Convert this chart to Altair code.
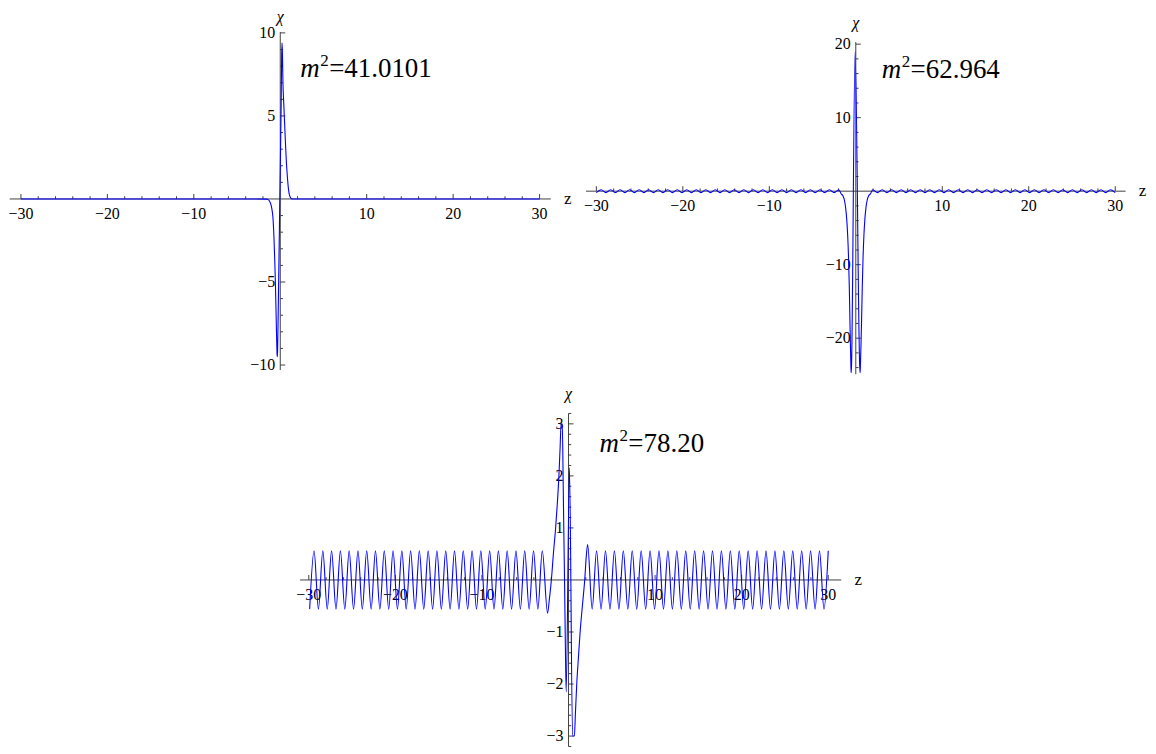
import altair as alt
import pandas as pd

# ---------------- data ----------------
# Panel 1 : m^2 = 41.0101
z1 = [-30.0, -3.0, -1.6, -1.4, -1.25, -1.1, -0.97, -0.85, -0.73, -0.63, -0.55, -0.47,
      -0.41, -0.37, -0.34, -0.31, -0.2, -0.05, 0.1, 0.16, 0.2, 0.25, 0.31, 0.4, 0.5,
      0.6, 0.7, 0.8, 0.9, 1.0, 1.15, 1.35, 2.0, 30.0]
chi1 = [0.0, 0.0, -0.01, -0.04, -0.12, -0.3, -0.6, -1.1, -2.3, -3.8, -5.3, -7.2,
        -8.6, -9.3, -9.5, -9.2, -5.5, 0.0, 5.5, 8.5, 9.4, 8.8, 7.0, 5.8, 4.6,
        3.4, 2.3, 1.5, 0.85, 0.4, 0.12, 0.0, 0.0, 0.0]

# Panel 2 : m^2 = 62.964  (small ripple on both sides, double well in the middle)
z2_left = [-30.0, -29.45, -28.9, -28.35, -27.8, -27.25, -26.7, -26.15, -25.6, -25.05,
           -24.5, -23.95, -23.4, -22.85, -22.3, -21.75, -21.2, -20.65, -20.1, -19.55,
           -19.0, -18.45, -17.9, -17.35, -16.8, -16.25, -15.7, -15.15, -14.6, -14.05,
           -13.5, -12.95, -12.4, -11.85, -11.3, -10.75, -10.2, -9.65, -9.1, -8.55,
           -8.0, -7.45, -6.9, -6.35, -5.8, -5.25, -4.7, -4.15, -3.6, -3.05, -2.5, -1.95]
chi2_left = [-0.2, 0.2, -0.2, 0.2, -0.2, 0.2, -0.2, 0.2, -0.2, 0.2,
             -0.2, 0.2, -0.2, 0.2, -0.2, 0.2, -0.2, 0.2, -0.2, 0.2,
             -0.2, 0.2, -0.2, 0.2, -0.2, 0.2, -0.2, 0.2, -0.2, 0.2,
             -0.2, 0.2, -0.2, 0.2, -0.2, 0.2, -0.2, 0.2, -0.2, 0.2,
             -0.2, 0.2, -0.2, 0.2, -0.2, 0.2, -0.2, 0.2, -0.2, 0.2, -0.2, 0.2]
z2_mid = [-1.7, -1.5, -1.32, -1.18, -1.05, -0.94, -0.84, -0.75, -0.68, -0.62, -0.57, -0.54, -0.5,
          -0.08,
          0.46, 0.5, 0.54, 0.6, 0.67, 0.75, 0.84, 0.94, 1.05, 1.18, 1.32, 1.5, 1.7]
chi2_mid = [-0.35, -0.6, -1.2, -2.2, -3.8, -6.0, -9.0, -13.0, -17.5, -21.0, -23.5, -24.7, -24.0,
            19.0,
            -24.0, -24.7, -23.5, -21.0, -17.5, -13.0, -9.0, -6.0, -3.8, -2.2, -1.2, -0.6, -0.35]
z2_right = [1.95, 2.5, 3.05, 3.6, 4.15, 4.7, 5.25, 5.8, 6.35, 6.9, 7.45, 8.0, 8.55,
            9.1, 9.65, 10.2, 10.75, 11.3, 11.85, 12.4, 12.95, 13.5, 14.05, 14.6, 15.15,
            15.7, 16.25, 16.8, 17.35, 17.9, 18.45, 19.0, 19.55, 20.1, 20.65, 21.2, 21.75,
            22.3, 22.85, 23.4, 23.95, 24.5, 25.05, 25.6, 26.15, 26.7, 27.25, 27.8, 28.35,
            28.9, 29.45, 30.0]
chi2_right = [0.2, -0.2, 0.2, -0.2, 0.2, -0.2, 0.2, -0.2, 0.2, -0.2,
              0.2, -0.2, 0.2, -0.2, 0.2, -0.2, 0.2, -0.2, 0.2, -0.2,
              0.2, -0.2, 0.2, -0.2, 0.2, -0.2, 0.2, -0.2, 0.2, -0.2,
              0.2, -0.2, 0.2, -0.2, 0.2, -0.2, 0.2, -0.2, 0.2, -0.2,
              0.2, -0.2, 0.2, -0.2, 0.2, -0.2, 0.2, -0.2, 0.2, -0.2, 0.2, -0.2]

# Panel 3 : m^2 = 78.20  (extrema of the oscillation + central structure)
z3_left = [-29.9, -29.39, -28.89, -28.38, -27.87, -27.37, -26.86, -26.35, -25.84, -25.34,
           -24.83, -24.32, -23.82, -23.31, -22.8, -22.3, -21.79, -21.28, -20.77, -20.27,
           -19.76, -19.25, -18.75, -18.24, -17.73, -17.23, -16.72, -16.21, -15.7, -15.2,
           -14.69, -14.18, -13.68, -13.17, -12.66, -12.16, -11.65, -11.14, -10.63, -10.13,
           -9.62, -9.11, -8.61, -8.1, -7.59, -7.09, -6.58, -6.07, -5.56, -5.06,
           -4.55, -4.04, -3.54, -3.03]
chi3_left = [-0.56, 0.56, -0.56, 0.56, -0.56, 0.56, -0.56, 0.56, -0.56, 0.56,
             -0.56, 0.56, -0.56, 0.56, -0.56, 0.56, -0.56, 0.56, -0.56, 0.56,
             -0.56, 0.56, -0.56, 0.56, -0.56, 0.56, -0.56, 0.56, -0.56, 0.56,
             -0.56, 0.56, -0.56, 0.56, -0.56, 0.56, -0.56, 0.56, -0.56, 0.56,
             -0.56, 0.56, -0.56, 0.56, -0.56, 0.56, -0.56, 0.56, -0.56, 0.56,
             -0.56, 0.56, -0.56, 0.56]
z3_mid = [-2.42, -2.2, -1.98, -1.75, -1.49, -1.3, -1.11, -0.97, -0.86, -0.72, -0.62, -0.54,
          -0.46, -0.36, -0.27, 0.11, 0.47, 0.68, 0.8, 0.95, 1.14, 1.34, 1.6, 1.87, 2.05, 2.21]
chi3_mid = [-0.64, -0.35, 0.0, 0.5, 1.0, 1.45, 2.0, 2.55, 3.0, 3.0, 1.9, 0.9,
            0.0, -1.3, -2.15, 2.16, -3.0, -3.0, -2.55, -2.0, -1.5, -1.0, -0.5, 0.0, 0.45, 0.68]
z3_right = [2.73, 3.24, 3.76, 4.27, 4.79, 5.3, 5.82, 6.33, 6.85, 7.36, 7.88, 8.39, 8.91,
            9.42, 9.94, 10.45, 10.97, 11.48, 12.0, 12.51, 13.03, 13.54, 14.06, 14.57, 15.09,
            15.6, 16.12, 16.63, 17.15, 17.66, 18.18, 18.69, 19.21, 19.72, 20.24, 20.75,
            21.27, 21.78, 22.3, 22.81, 23.33, 23.84, 24.36, 24.87, 25.39, 25.9, 26.42,
            26.93, 27.45, 27.96, 28.48, 28.99, 29.51, 30.0]
chi3_right = [-0.56, 0.56, -0.56, 0.56, -0.56, 0.56, -0.56, 0.56, -0.56, 0.56,
              -0.56, 0.56, -0.56, 0.56, -0.56, 0.56, -0.56, 0.56, -0.56, 0.56,
              -0.56, 0.56, -0.56, 0.56, -0.56, 0.56, -0.56, 0.56, -0.56, 0.56,
              -0.56, 0.56, -0.56, 0.56, -0.56, 0.56, -0.56, 0.56, -0.56, 0.56,
              -0.56, 0.56, -0.56, 0.56, -0.56, 0.56, -0.56, 0.56, -0.56, 0.56,
              -0.56, 0.56, -0.56, 0.56]

# tick positions / labels
x_major = [-30, -20, -10, 10, 20, 30]
x_minor = [-28, -26, -24, -22, -18, -16, -14, -12, -8, -6, -4, -2,
           2, 4, 6, 8, 12, 14, 16, 18, 22, 24, 26, 28]
y1_major = [-10, -5, 5, 10]
y1_minor = [-9, -8, -7, -6, -4, -3, -2, -1, 1, 2, 3, 4, 6, 7, 8, 9]
y2_major = [-20, -10, 10, 20]
y2_minor = [-24, -22, -18, -16, -14, -12, -8, -6, -4, -2, 2, 4, 6, 8, 12, 14, 16, 18]
y3_major = [-3, -2, -1, 1, 2, 3]
y3_minor = [-3.2, -2.8, -2.6, -2.4, -2.2, -1.8, -1.6, -1.4, -1.2, -0.8, -0.6, -0.4, -0.2,
            0.2, 0.4, 0.6, 0.8, 1.2, 1.4, 1.6, 1.8, 2.2, 2.4, 2.6, 2.8, 3.2]
masses = ["41.0101", "62.964", "78.20"]

# ---------------- styling ----------------
AX = "#404040"
BLUE = "#0000ff"
FONT = "Liberation Serif"


def fmt(v):
    s = f"{abs(v):g}"
    return ("\u2212" + s) if v < 0 else s


def panel(z, chi, w, h, xdom, ydom, xaxis, yaxis, ymaj, ymin, mass, ann_x, ann_y, chi_dy):
    xs = alt.Scale(domain=xdom, nice=False, zero=False)
    ys = alt.Scale(domain=ydom, nice=False, zero=False)

    def X(f):
        return alt.X(f, type="quantitative", scale=xs, axis=None)

    def Y(f):
        return alt.Y(f, type="quantitative", scale=ys, axis=None)

    layers = []
    # axis lines
    layers.append(alt.Chart(pd.DataFrame({"a": [xaxis[0]], "b": [xaxis[1]], "c": [0.0]}))
                  .mark_rule(color=AX, strokeWidth=1)
                  .encode(x=X("a"), x2="b", y=Y("c")))
    layers.append(alt.Chart(pd.DataFrame({"a": [yaxis[0]], "b": [yaxis[1]], "c": [0.0]}))
                  .mark_rule(color=AX, strokeWidth=1)
                  .encode(y=Y("a"), y2="b", x=X("c")))
    # x ticks (pointing up)
    for vals, size in ((x_major, 100), (x_minor, 30)):
        layers.append(alt.Chart(pd.DataFrame({"v": vals, "o": [0.0] * len(vals)}))
                      .mark_point(shape="M0,0L0,-1", size=size, filled=False, color=AX,
                                  strokeWidth=1, opacity=1)
                      .encode(x=X("v"), y=Y("o")))
    # y ticks (pointing right)
    for vals, size in ((ymaj, 100), (ymin, 30)):
        layers.append(alt.Chart(pd.DataFrame({"v": vals, "o": [0.0] * len(vals)}))
                      .mark_point(shape="M0,0L1,0", size=size, filled=False, color=AX,
                                  strokeWidth=1, opacity=1)
                      .encode(y=Y("v"), x=X("o")))
    # tick labels
    layers.append(alt.Chart(pd.DataFrame({"v": x_major, "o": [0.0] * len(x_major),
                                          "t": [fmt(v) for v in x_major]}))
                  .mark_text(font=FONT, fontSize=16, color="black", baseline="middle", dy=15)
                  .encode(x=X("v"), y=Y("o"), text="t:N"))
    layers.append(alt.Chart(pd.DataFrame({"v": ymaj, "o": [0.0] * len(ymaj),
                                          "t": [fmt(v) for v in ymaj]}))
                  .mark_text(font=FONT, fontSize=16, color="black", baseline="middle",
                             align="right", dx=-5)
                  .encode(y=Y("v"), x=X("o"), text="t:N"))
    # axis names
    layers.append(alt.Chart(pd.DataFrame({"a": [0.0], "b": [yaxis[1]]}))
                  .mark_text(text="\u03c7", font=FONT, fontSize=16, fontStyle="italic",
                             color="black", baseline="middle", dy=chi_dy)
                  .encode(x=X("a"), y=Y("b")))
    layers.append(alt.Chart(pd.DataFrame({"a": [xaxis[1]], "b": [0.0]}))
                  .mark_text(text="z", font=FONT, fontSize=17, color="black",
                             baseline="middle", dx=17)
                  .encode(x=X("a"), y=Y("b")))
    # curve
    layers.append(alt.Chart(pd.DataFrame({"z": z, "chi": chi}))
                  .mark_line(color=BLUE, strokeWidth=1.1, interpolate="monotone")
                  .encode(x=X("z"), y=Y("chi")))
    # annotation  m^2 = ...
    one = pd.DataFrame({"k": [0]})
    layers.append(alt.Chart(one).mark_text(text="m", font=FONT, fontSize=27, fontStyle="italic",
                                           color="black", align="left", baseline="alphabetic")
                  .encode(x=alt.value(ann_x), y=alt.value(ann_y)))
    layers.append(alt.Chart(one).mark_text(text="2", font=FONT, fontSize=17, color="black",
                                           align="left", baseline="alphabetic")
                  .encode(x=alt.value(ann_x + 20), y=alt.value(ann_y - 11)))
    layers.append(alt.Chart(one).mark_text(text="=" + mass, font=FONT, fontSize=27, color="black",
                                           align="left", baseline="alphabetic")
                  .encode(x=alt.value(ann_x + 29), y=alt.value(ann_y)))
    return alt.layer(*layers).properties(width=w, height=h)


p1 = panel(z1, chi1, 567, 367, [-31.38, 34.04], [-10.60, 11.44], (-31.3, 31.3), (-10.3, 10.05),
           y1_major, y1_minor, masses[0], 292, 68, -15)
p2 = panel(z2_left + z2_mid + z2_right, chi2_left + chi2_mid + chi2_right,
           570, 372, [-31.95, 33.79], [-25.69, 24.79], (-31.2, 31.2), (-24.9, 20.3),
           y2_major, y2_minor, masses[1], 303, 69, -19)
p3 = panel(z3_left + z3_mid + z3_right, chi3_left + chi3_mid + chi3_right,
           872, 365, [-64.63, 35.83], [-3.249, 3.747], (-31.0, 31.5), (-3.2, 3.2),
           y3_major, y3_minor, masses[2], 592, 67, -19)

top = alt.hconcat(p1, p2, spacing=5)
chart = (alt.vconcat(top, p3, spacing=5)
         .properties(padding=0)
         .configure_view(stroke=None))

chart.save("out.html", embed_options={"renderer": "svg", "actions": False})
